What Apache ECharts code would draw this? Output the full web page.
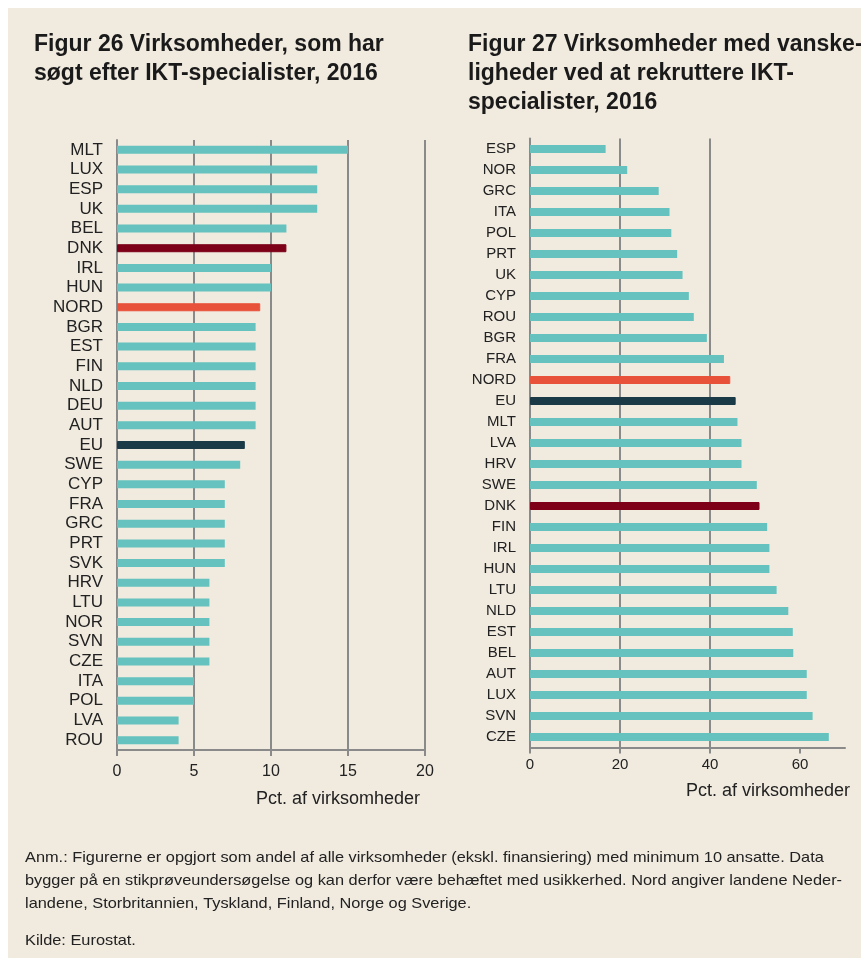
<!DOCTYPE html>
<html>
<head>
<meta charset="utf-8">
<script src="https://cdn.jsdelivr.net/npm/echarts@6/dist/echarts.min.js"></script>
<style>
  html, body { margin: 0; padding: 0; background: #fff; }
  #chart { width: 861px; height: 958px; }
</style>
</head>
<body>
<div id="chart"></div>
<script>
// Figur 26: share of firms that searched for ICT specialists
const fig26Countries = ['MLT', 'LUX', 'ESP', 'UK', 'BEL', 'DNK', 'IRL', 'HUN', 'NORD', 'BGR', 'EST', 'FIN', 'NLD', 'DEU', 'AUT', 'EU',
  'SWE', 'CYP', 'FRA', 'GRC', 'PRT', 'SVK', 'HRV', 'LTU', 'NOR', 'SVN', 'CZE', 'ITA', 'POL', 'LVA', 'ROU'];
const fig26Values = [15, 13, 13, 13, 11, 11, 10, 10, 9.3, 9, 9, 9, 9, 9, 9, 8.3,
  8, 7, 7, 7, 7, 7, 6, 6, 6, 6, 6, 5, 5, 4, 4];

// Figur 27: share of firms with difficulties recruiting ICT specialists
const fig27Countries = ['ESP', 'NOR', 'GRC', 'ITA', 'POL', 'PRT', 'UK', 'CYP', 'ROU', 'BGR', 'FRA', 'NORD', 'EU', 'MLT', 'LVA',
  'HRV', 'SWE', 'DNK', 'FIN', 'IRL', 'HUN', 'LTU', 'NLD', 'EST', 'BEL', 'AUT', 'LUX', 'SVN', 'CZE'];
const fig27Values = [16.8, 21.6, 28.6, 31.0, 31.4, 32.7, 33.9, 35.3, 36.4, 39.3, 43.1, 44.5, 45.7, 46.1, 47.0,
  47.0, 50.4, 51.0, 52.7, 53.2, 53.2, 54.8, 57.4, 58.4, 58.5, 61.5, 61.5, 62.8, 66.4];

const fig26Ticks = [0, 5, 10, 15, 20];
const fig27Ticks = [0, 20, 40, 60];

const axisName = 'Pct. af virksomheder';
const title26 = 'Figur 26 Virksomheder, som har\nsøgt efter IKT-specialister, 2016';
const title27 = 'Figur 27 Virksomheder med vanske-\nligheder ved at rekruttere IKT-\nspecialister, 2016';
const noteLines = [
  'Anm.: Figurerne er opgjort som andel af alle virksomheder (ekskl. finansiering) med minimum 10 ansatte. Data',
  'bygger på en stikprøveundersøgelse og kan derfor være behæftet med usikkerhed. Nord angiver landene Neder-',
  'landene, Storbritannien, Tyskland, Finland, Norge og Sverige.'
];
const source = 'Kilde: Eurostat.';

const teal = '#66c2be';
const highlight = { DNK: '#7d0018', NORD: '#e8523a', EU: '#1b3a47' };
const grey = '#8a8a8a';
const font = 'Liberation Sans, Arial, sans-serif';

function barData(cats, vals) {
  return vals.map((v, i) => {
    const c = highlight[cats[i]];
    if (!c) return v;
    return { value: v, itemStyle: { color: c, borderColor: c, borderWidth: 1 } };
  });
}

function yAxis(idx, cats, size) {
  return {
    type: 'category', gridIndex: idx, data: cats, inverse: true,
    axisLine: { lineStyle: { color: grey, width: 2 } },
    axisTick: { length: 5, lineStyle: { color: grey, width: 2 } },
    axisLabel: { color: '#222', fontSize: size, fontFamily: font, margin: 14, interval: 0 }
  };
}

const chart = echarts.init(document.getElementById('chart'));
chart.setOption({
  backgroundColor: '#fff',
  animation: false,
  graphic: [
    { type: 'rect', left: 8, top: 8, shape: { width: 853, height: 950 }, style: { fill: '#f0eadf' }, z: -10 },
    { type: 'text', left: 34, top: 30, style: { text: title26, font: 'bold 23px ' + font, fill: '#1a1a1a', lineHeight: 29 } },
    { type: 'text', left: 468, top: 30, style: { text: title27, font: 'bold 23px ' + font, fill: '#1a1a1a', lineHeight: 29 } },
    { type: 'text', x: 25, y: 846, scaleX: 1.09, style: { text: noteLines.join('\n'), font: '15px ' + font, fill: '#222', lineHeight: 23 } },
    { type: 'text', x: 25, y: 933, scaleX: 1.09, style: { text: source, font: '15px ' + font, fill: '#222' } }
  ],
  grid: [
    { left: 117, top: 140, width: 308, height: 610, outerBoundsMode: 'none', containLabel: false },
    { left: 530, top: 138.5, width: 315, height: 609, outerBoundsMode: 'none', containLabel: false }
  ],
  xAxis: [
    {
      type: 'value', gridIndex: 0, min: 0, max: 20, interval: 5,
      name: axisName, nameLocation: 'end', nameGap: -5, nameMoveOverlap: false,
      nameTextStyle: { align: 'right', verticalAlign: 'top', padding: [40, 0, 0, 0], fontSize: 18, color: '#222', fontFamily: font },
      axisLine: { show: true, lineStyle: { color: grey, width: 2 } },
      axisTick: { show: true, length: 6, lineStyle: { color: grey, width: 2 } },
      axisLabel: { color: '#222', fontSize: 16, fontFamily: font, margin: 14, customValues: fig26Ticks },
      splitLine: { show: true, lineStyle: { color: grey, width: 2 } }
    },
    {
      type: 'value', gridIndex: 1, min: 0, max: 70, interval: 20,
      name: axisName, nameLocation: 'end', nameGap: 5, nameMoveOverlap: false,
      nameTextStyle: { align: 'right', verticalAlign: 'top', padding: [35, 0, 0, 0], fontSize: 18, color: '#222', fontFamily: font },
      axisLine: { show: true, lineStyle: { color: grey, width: 2 } },
      axisTick: { show: true, length: 6, lineStyle: { color: grey, width: 2 }, customValues: fig27Ticks },
      axisLabel: { color: '#222', fontSize: 15, fontFamily: font, margin: 10, customValues: fig27Ticks },
      splitLine: { show: true, showMaxLine: false, lineStyle: { color: grey, width: 2 } }
    }
  ],
  yAxis: [yAxis(0, fig26Countries, 17), yAxis(1, fig27Countries, 15)],
  series: [
    { type: 'bar', xAxisIndex: 0, yAxisIndex: 0, barWidth: 8, itemStyle: { color: teal }, data: barData(fig26Countries, fig26Values) },
    { type: 'bar', xAxisIndex: 1, yAxisIndex: 1, barWidth: 8, itemStyle: { color: teal }, data: barData(fig27Countries, fig27Values) }
  ]
});
</script>
</body>
</html>
